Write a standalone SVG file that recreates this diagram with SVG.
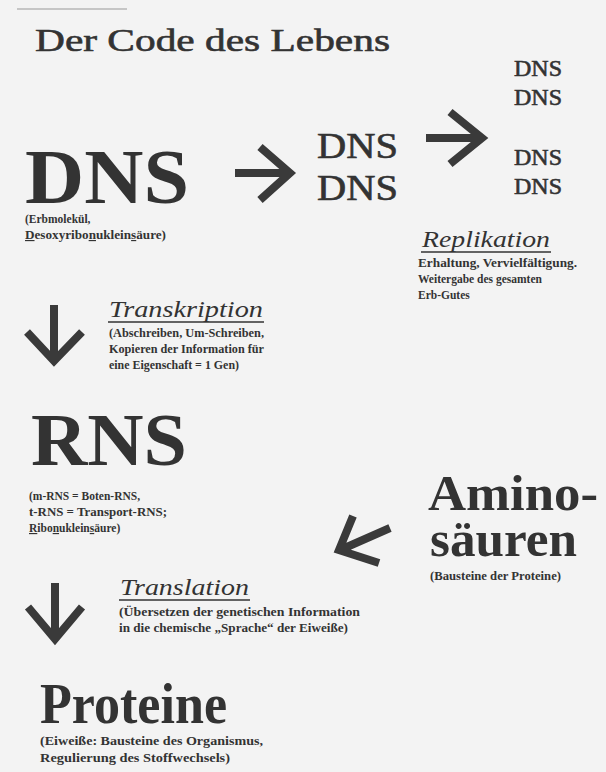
<svg xmlns="http://www.w3.org/2000/svg" width="606" height="772" viewBox="0 0 606 772">
<style>
.t{font-family:"Liberation Serif","DejaVu Serif",serif;fill:#333}
.big{font-weight:bold}
.med{stroke:#333;stroke-width:0.6}
.sub{font-size:11.5px;font-weight:bold}
.it{font-style:italic;font-size:23px}
.u{text-decoration:underline}
.ar{fill:none;stroke:#3a3a3a;stroke-width:8;stroke-linejoin:miter;stroke-miterlimit:10}
.ul{stroke:#333;stroke-width:1.3}
</style>
<rect width="606" height="772" fill="#f3f3f3"/>
<line x1="17" y1="9" x2="127" y2="9" stroke="#999" stroke-width="1"/>
<g id="title"><text class="t med" x="35" y="51" font-size="32" textLength="355" lengthAdjust="spacingAndGlyphs">Der Code des Lebens</text></g>
<g id="dns">
<text class="t big" x="25" y="203" font-size="78" textLength="164" lengthAdjust="spacingAndGlyphs">DNS</text>
<text class="t sub" x="25" y="223">(Erbmolekül,</text>
<text class="t sub" x="25" y="239" textLength="141" lengthAdjust="spacingAndGlyphs"><tspan class="u">D</tspan>esoxyribo<tspan class="u">n</tspan>uklein<tspan class="u">s</tspan>äure)</text>
</g>
<g id="dns2">
<text class="t med" x="317" y="158" font-size="35" textLength="81" lengthAdjust="spacingAndGlyphs">DNS</text>
<text class="t med" x="317" y="200" font-size="35" textLength="81" lengthAdjust="spacingAndGlyphs">DNS</text>
</g>
<g id="dns4">
<text class="t med" x="514" y="76" font-size="23" textLength="48" lengthAdjust="spacingAndGlyphs">DNS</text>
<text class="t med" x="514" y="105" font-size="23" textLength="48" lengthAdjust="spacingAndGlyphs">DNS</text>
<text class="t med" x="514" y="165" font-size="23" textLength="48" lengthAdjust="spacingAndGlyphs">DNS</text>
<text class="t med" x="514" y="194" font-size="23" textLength="48" lengthAdjust="spacingAndGlyphs">DNS</text>
</g>
<g id="replikation">
<text class="t it" x="422" y="247" textLength="128" lengthAdjust="spacingAndGlyphs">Replikation</text>
<line class="ul" x1="421" y1="252" x2="551" y2="252"/>
<text class="t sub" x="418" y="267" textLength="159" lengthAdjust="spacingAndGlyphs">Erhaltung, Vervielfältigung.</text>
<text class="t sub" x="418" y="283">Weitergabe des gesamten</text>
<text class="t sub" x="418" y="299">Erb-Gutes</text>
</g>
<g id="transkription">
<text class="t it" x="109" y="317" textLength="154" lengthAdjust="spacingAndGlyphs">Transkription</text>
<line class="ul" x1="108" y1="322" x2="264" y2="322"/>
<text class="t sub" x="109" y="337" textLength="155" lengthAdjust="spacingAndGlyphs">(Abschreiben, Um-Schreiben,</text>
<text class="t sub" x="109" y="353" textLength="155" lengthAdjust="spacingAndGlyphs">Kopieren der Information für</text>
<text class="t sub" x="109" y="369" textLength="130" lengthAdjust="spacingAndGlyphs">eine Eigenschaft = 1 Gen)</text>
</g>
<g id="rns">
<text class="t big" x="31" y="465" font-size="74" textLength="156" lengthAdjust="spacingAndGlyphs">RNS</text>
<text class="t sub" x="29" y="500">(m-RNS = Boten-RNS,</text>
<text class="t sub" x="29" y="516" textLength="138" lengthAdjust="spacingAndGlyphs">t-RNS = Transport-RNS;</text>
<text class="t sub" x="29" y="532"><tspan class="u">R</tspan>ibo<tspan class="u">n</tspan>uklein<tspan class="u">s</tspan>äure)</text>
</g>
<g id="aminosaeuren">
<text class="t big" x="428" y="510" font-size="50" textLength="170" lengthAdjust="spacingAndGlyphs">Amino-</text>
<text class="t big" x="430" y="556" font-size="50" textLength="147" lengthAdjust="spacingAndGlyphs">säuren</text>
<text class="t sub" x="430" y="580" textLength="131" lengthAdjust="spacingAndGlyphs">(Bausteine der Proteine)</text>
</g>
<g id="translation">
<text class="t it" x="120" y="595" textLength="129" lengthAdjust="spacingAndGlyphs">Translation</text>
<line class="ul" x1="119" y1="600" x2="250" y2="600"/>
<text class="t sub" x="119" y="616" textLength="241" lengthAdjust="spacingAndGlyphs">(Übersetzen der genetischen Information</text>
<text class="t sub" x="119" y="632" textLength="229" lengthAdjust="spacingAndGlyphs">in die chemische „Sprache“ der Eiweiße)</text>
</g>
<g id="proteine">
<text class="t big" x="40" y="723" font-size="56" textLength="187" lengthAdjust="spacingAndGlyphs">Proteine</text>
<text class="t sub" x="40" y="745" textLength="223" lengthAdjust="spacingAndGlyphs">(Eiweiße: Bausteine des Organismus,</text>
<text class="t sub" x="40" y="762" textLength="190" lengthAdjust="spacingAndGlyphs">Regulierung des Stoffwechsels)</text>
</g>
<g id="connectors">
<path class="ar" d="M235,173 H288 M260,147 L290,173 L260,200"/>
<path class="ar" d="M426,138 H480 M450,112 L482,138 L450,164"/>
<path class="ar" d="M54,305 V360 M27,332 L54,361 L82,332"/>
<path class="ar" d="M55,583 V638 M28,607 L55,639 L82,607"/>
<path class="ar" d="M390,528 L340,550 M353,516 L339,550 L379,563"/>
</g>
</svg>
